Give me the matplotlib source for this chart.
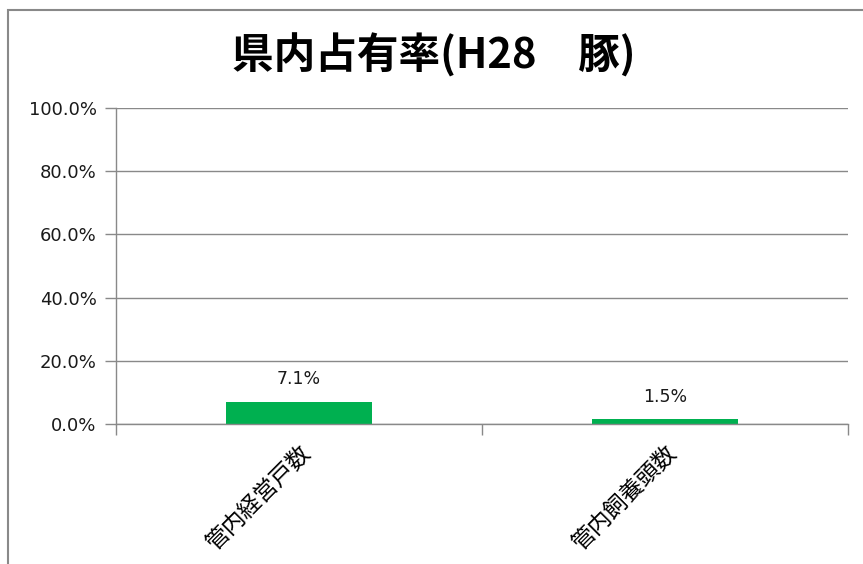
import matplotlib
matplotlib.use('Agg')
from matplotlib import pyplot as plt
from matplotlib.patches import Rectangle
from matplotlib.ticker import FuncFormatter

plt.rcParams['font.family'] = ['DejaVu Sans', 'Noto Sans CJK JP']

title = '県内占有率(H28\u3000豚)'
categories = ['管内経営戸数', '管内飼養頭数']
values = [7.1, 1.5]
yticks = [0, 20, 40, 60, 80, 100]

grid_col = '#898989'
bar_col = '#00B050'

fig = plt.figure(figsize=(8.63, 5.64), dpi=100)
ax = fig.add_axes([0.1344, 0.2482, 0.8482, 0.5603])

x = range(len(categories))
bars = ax.bar(x, values, width=0.4, color=bar_col, zorder=3)
for b, v in zip(bars, values):
    ax.text(b.get_x() + b.get_width() / 2, v + 7.2, f'{v:.1f}%',
            ha='center', va='center', fontsize=12.5, color='#1a1a1a',
            family=['DejaVu Sans'])

ax.set_xlim(-0.5, len(categories) - 0.5)
ax.set_ylim(0, 100)
ax.set_yticks(yticks)
ax.yaxis.set_major_formatter(FuncFormatter(lambda v, p: f'{v:.1f}%'))
ax.grid(axis='y', color=grid_col, linewidth=1, zorder=0)
for lab in ax.get_yticklabels():
    lab.set_family(['DejaVu Sans'])

# category labels between boundary ticks
ax.set_xticks([i - 0.5 for i in range(len(categories) + 1)])
ax.set_xticklabels([])
ax.set_xticks(list(x), minor=True)
ax.set_xticklabels(categories, minor=True, rotation=45, ha='right',
                   rotation_mode='anchor', fontsize=16.5,
                   family=['Noto Sans CJK JP'])
ax.tick_params(axis='x', which='minor', length=0, pad=13)
ax.tick_params(axis='x', which='major', length=8, color=grid_col, width=1)
ax.tick_params(axis='y', length=8, color=grid_col, width=1, labelsize=13,
               labelcolor='#1a1a1a', pad=6)
for lab in ax.get_xticklabels(minor=True):
    lab.set_x(lab.get_position()[0])

for s in ['top', 'right']:
    ax.spines[s].set_visible(False)
for s in ['left', 'bottom']:
    ax.spines[s].set_color(grid_col)
    ax.spines[s].set_linewidth(1)
    ax.spines[s].set_zorder(4)

fig.text(0.503, 0.9025, title, ha='center', va='center', fontsize=30,
         fontweight='bold', family=['Noto Sans CJK JP'])

# chart frame
fig.patches.append(Rectangle((8 / 863, -0.05), 1.2, 1 - 10 / 564 + 0.05,
                             transform=fig.transFigure, fill=False,
                             edgecolor=grid_col, linewidth=1.5))

fig.savefig('out.png', dpi=100)
